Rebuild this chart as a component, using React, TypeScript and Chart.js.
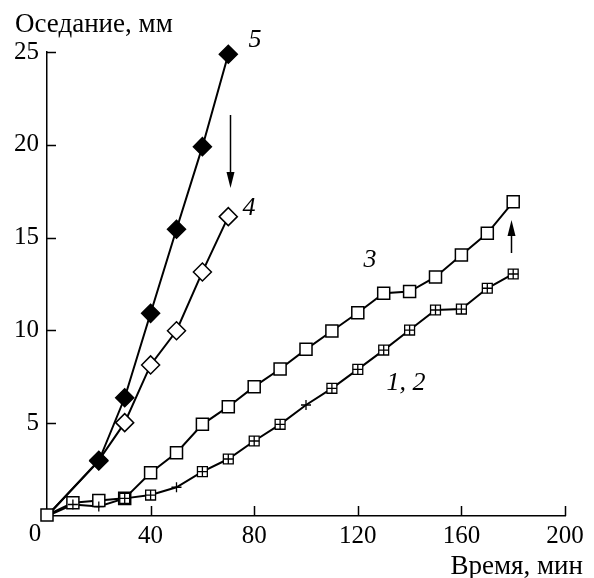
import React, { useEffect, useRef } from "react";
import { Chart, registerables } from "chart.js";

Chart.register(...registerables);

// Time (min) and settlement (mm) for each curve
const time5 = [0, 20, 30, 40, 50, 60, 70];
const settle5 = [0, 2.96, 6.37, 10.92, 15.45, 19.9, 24.88];

const time4 = [0, 20, 30, 40, 50, 60, 70];
const settle4 = [0, 3.0, 5.03, 8.14, 9.98, 13.15, 16.13];

const time3 = [0, 10, 20, 30, 40, 50, 60, 70, 80, 90, 100, 110, 120, 130, 140, 150, 160, 170, 180];
const settle3 = [0.05, 0.72, 0.84, 0.95, 2.33, 3.41, 4.94, 5.89, 6.97, 7.92, 8.98, 9.97, 10.95, 12.0, 12.09, 12.88, 14.06, 15.23, 16.93];

const time12 = [0, 10, 20, 30, 40, 50, 60, 70, 80, 90, 100, 110, 120, 130, 140, 150, 160, 170, 180];
const settle2 = [0, 0.62, 0.51, 0.95, 1.13, 1.55, 2.39, 3.07, 4.04, 4.94, 5.98, 6.88, 7.9, 8.94, 10.02, 11.1, 11.15, 12.27, 13.04];
const settle1 = [null, null, null, 0.95, 1.13, null, 2.39, 3.07, 4.04, 4.94, null, 6.88, 7.9, 8.94, 10.02, 11.1, 11.15, 12.27, 13.04];

const xTicks = [0, 40, 80, 120, 160, 200];
const yTicks = [5, 10, 15, 20, 25];

const yTitle = "Оседание, мм";
const xTitle = "Время, мин";
const curveLabels = ["5", "4", "3", "1, 2"];

const FONT = "'Liberation Serif', 'Times New Roman', serif";

const pts = (xs: number[], ys: (number | null)[]) => xs.map((x, i) => ({ x, y: ys[i] }));
const radii = (xs: number[], r: number) => xs.map((x) => (x === 0 ? 0 : r));

const decor = {
  id: "decor",
  afterDraw(chart: any) {
    const ctx = chart.ctx;
    const xs = chart.scales.x;
    const ys = chart.scales.y;
    const area = chart.chartArea;
    ctx.save();
    ctx.strokeStyle = "#000";
    ctx.fillStyle = "#000";
    ctx.lineWidth = 1.5;
    // inward ticks
    ctx.beginPath();
    xTicks.forEach((v) => {
      if (v === 0) return;
      const px = Math.round(xs.getPixelForValue(v)) + 0.5;
      ctx.moveTo(px, area.bottom);
      ctx.lineTo(px, area.bottom - 10);
    });
    yTicks.forEach((v) => {
      const py = Math.round(ys.getPixelForValue(v)) + 0.5;
      ctx.moveTo(area.left, py);
      ctx.lineTo(area.left + 9, py);
    });
    ctx.stroke();

    // corner "0"
    ctx.font = `25px ${FONT}`;
    ctx.textAlign = "center";
    ctx.textBaseline = "alphabetic";
    ctx.fillText("0", area.left - 12, area.bottom + 25);

    // axis titles
    ctx.font = `27px ${FONT}`;
    ctx.textAlign = "left";
    ctx.fillText(yTitle, 15, 32);
    ctx.textAlign = "right";
    ctx.fillText(xTitle, 583, 574);

    // curve labels
    ctx.font = `italic 26px ${FONT}`;
    ctx.textAlign = "center";
    ctx.textBaseline = "middle";
    ctx.fillText(curveLabels[0], 255, 40);
    ctx.fillText(curveLabels[1], 249, 208);
    ctx.fillText(curveLabels[2], 370, 260);
    ctx.fillText(curveLabels[3], 406, 383);

    // arrows
    const arrow = (x: number, y1: number, y2: number) => {
      const dir = y2 > y1 ? 1 : -1;
      ctx.beginPath();
      ctx.lineWidth = 1.5;
      ctx.moveTo(x, y1);
      ctx.lineTo(x, y2 - dir * 12);
      ctx.stroke();
      ctx.beginPath();
      ctx.moveTo(x, y2);
      ctx.lineTo(x - 4, y2 - dir * 16);
      ctx.lineTo(x + 4, y2 - dir * 16);
      ctx.closePath();
      ctx.fill();
    };
    arrow(230.5, 115, 188);
    arrow(511.5, 253, 220);
    ctx.restore();
  },
};

export default function App() {
  const ref = useRef<HTMLCanvasElement | null>(null);
  useEffect(() => {
    document.body.style.margin = "0";
    if (!ref.current) return;
    const common = { borderColor: "#000", pointBorderColor: "#000", clip: false as any };
    const chart = new Chart(ref.current, {
      type: "line",
      data: {
        datasets: [
          {
            ...common,
            label: "2 cross",
            data: pts(time12, settle2),
            showLine: false,
            pointStyle: "cross",
            pointRadius: radii(time12, 5),
            pointBorderWidth: 1.3,
          },
          {
            ...common,
            label: "1",
            data: pts(time12, settle1),
            showLine: false,
            pointStyle: "rect",
            pointRadius: 7,
            pointBackgroundColor: "#fff",
            pointBorderWidth: 1.3,
          },
          {
            ...common,
            label: "3",
            data: pts(time3, settle3),
            borderWidth: 2,
            pointStyle: "rect",
            pointRadius: 8.5,
            pointBackgroundColor: "#fff",
            pointBorderWidth: 1.5,
          },
          {
            ...common,
            label: "5",
            data: pts(time5, settle5),
            borderWidth: 2,
            pointStyle: "rectRot",
            pointRadius: radii(time5, 9),
            pointBackgroundColor: "#000",
            pointBorderWidth: 1.5,
          },
          {
            ...common,
            label: "4",
            data: pts(time4, settle4),
            borderWidth: 2,
            pointStyle: "rectRot",
            pointRadius: radii(time4, 9),
            pointBackgroundColor: "#fff",
            pointBorderWidth: 1.5,
          },
          {
            ...common,
            label: "1,2 line",
            data: pts(time12, settle2),
            borderWidth: 2,
            pointRadius: 0,
          },
        ],
      },
      options: {
        animation: false,
        responsive: true,
        maintainAspectRatio: false,
        layout: { padding: { top: 52, right: 29, left: 0, bottom: 0 } },
        plugins: { legend: { display: false }, tooltip: { enabled: false } },
        elements: { line: { tension: 0 } },
        scales: {
          x: {
            type: "linear",
            min: 0,
            max: 200,
            afterBuildTicks: (s: any) => {
              s.ticks = xTicks.map((v) => ({ value: v }));
            },
            afterFit: (s: any) => {
              s.height = 62;
            },
            grid: { display: false, drawTicks: false },
            border: { display: true, color: "#000", width: 1.5 },
            ticks: {
              color: "#000",
              padding: 5,
              font: { family: FONT, size: 25 },
              maxRotation: 0,
              callback: (v: any) => (v === 0 ? "" : String(v)),
            },
          },
          y: {
            type: "linear",
            min: 0,
            max: 25,
            afterBuildTicks: (s: any) => {
              s.ticks = yTicks.map((v) => ({ value: v }));
            },
            afterFit: (s: any) => {
              s.width = 47;
            },
            grid: { display: false, drawTicks: false },
            border: { display: true, color: "#000", width: 1.5 },
            ticks: {
              color: "#000",
              padding: 8,
              font: { family: FONT, size: 25 },
            },
          },
        },
      },
      plugins: [decor],
    });
    return () => chart.destroy();
  }, []);
  return (
    <div style={{ width: 594, height: 578, position: "relative", background: "#fff" }}>
      <canvas ref={ref} />
    </div>
  );
}
